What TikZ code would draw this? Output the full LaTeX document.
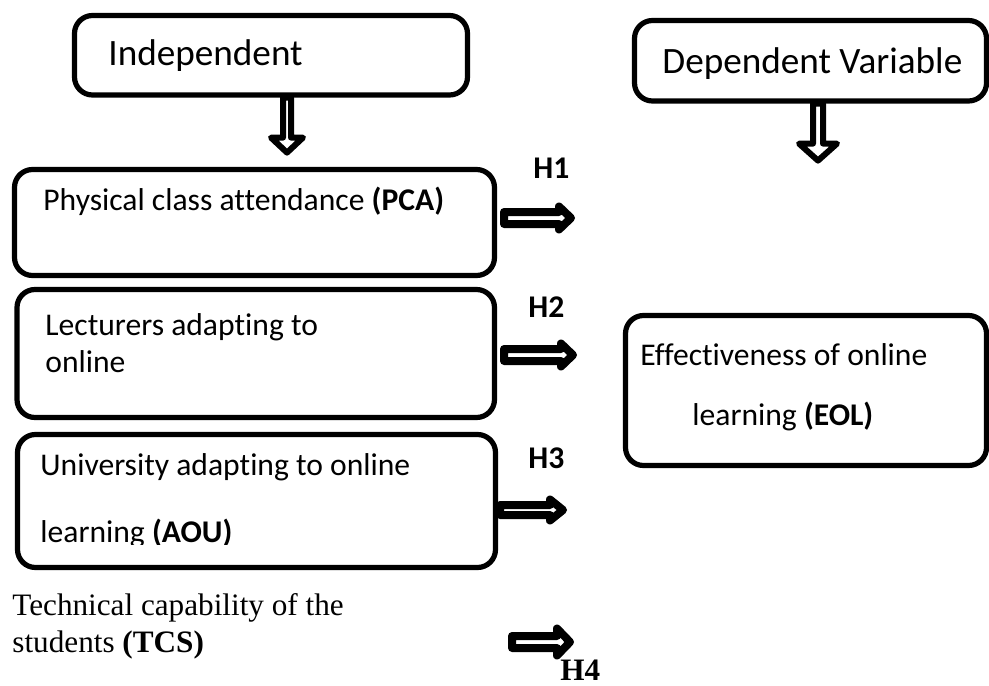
\documentclass[tikz,border=0pt]{standalone}
\usepackage{fontspec}
\setmainfont{Carlito}[Ligatures=CommonOff]
\newfontfamily\timesf{Liberation Serif}
\usetikzlibrary{fit}
\begin{document}
\begin{tikzpicture}[x=0.5pt,y=-0.5pt,
  box/.style={draw, line width=2.6pt, rounded corners=9pt, inner sep=0pt},
  txt/.style={anchor=base west, inner sep=0pt, font=\fontsize{15.8}{19}\selectfont},
  big/.style={anchor=base west, inner sep=0pt, font=\fontsize{18.6}{22}\selectfont},
  serif/.style={anchor=base west, inner sep=0pt, font=\timesf\fontsize{15.6}{19}\selectfont},
  hollow/.style={draw, fill=white, line join=round},
  pics/hollowarrow/.style n args={5}{code={
    \draw[hollow, line width=#5] (0,-#2) -- (#1-#4,-#2) -- (#1-#4,-#3) -- (#1,0)
      -- (#1-#4,#3) -- (#1-#4,#2) -- (0,#2) -- cycle;
  }}
]
\useasboundingbox (0,0) rectangle (989,685);

% boxes
\node[box, fit={(74.5,15.5) (467.5,95)}] (ind) {};
\node[box, fit={(634.5,20.5) (986.5,101)}] (dep) {};
\node[box, fit={(14.5,169.5) (494.5,275.5)}] (pca) {};
\node[box, fit={(17,289.5) (494.5,417.5)}] (lec) {};
\node[box, fit={(17.5,434.5) (495.5,567.5)}] (uni) {};
\node[box, fit={(625.5,315.5) (986.5,465.5)}] (eol) {};

% texts
\node[big] (tind) at (108,65) {Independent};
\node[big] (tdep) at (662,73) {Dependent Variable};
\node[txt] (tpca) at (43,210) {Physical class attendance \textbf{(PCA)}};
\node[txt] (tlec1) at (45,335) {Lecturers adapting to};
\node[txt] (tlec2) at (45,372) {online};
\node[txt] (tuni1) at (40,475) {University adapting to online};
\begin{scope}
  \clip (0,0) rectangle (989,544);
  \node[txt] (tuni2) at (40,542) {learning \textbf{(AOU)}};
\end{scope}
\node[txt] (teol1) at (640,365) {Effectiveness of online};
\node[txt] (teol2) at (692,425) {learning \textbf{(EOL)}};
\node[serif] (ttcs1) at (12,615) {Technical capability of the};
\node[serif] (ttcs2) at (12,652) {students \textbf{(TCS)}};

% hypothesis labels
\node[txt] (h1) at (533,178) {\textbf{H1}};
\node[txt] (h2) at (528,317) {\textbf{H2}};
\node[txt] (h3) at (528,468) {\textbf{H3}};
\node[serif] (h4) at (560,680) {\textbf{H4}};

% arrow anchors
\coordinate (v1) at (ind.south -| 287,0);
\coordinate (v2) at (dep.south -| 818,0);
\coordinate (a1) at (504,218);
\coordinate (a2) at (504,355);
\coordinate (a3) at (500,510);
\coordinate (a4) at (512,642);

% arrows
\pic[rotate=-90] at (v1) {hollowarrow={55}{4}{16}{15}{3pt}};
\pic[rotate=-90] at (v2) {hollowarrow={57}{5}{19}{17}{3pt}};
\pic at (a1) {hollowarrow={67}{6}{11.5}{12}{4pt}};
\pic at (a2) {hollowarrow={69}{6}{11.5}{12}{4pt}};
\pic at (a3) {hollowarrow={63}{5}{10.5}{13}{4pt}};
\pic at (a4) {hollowarrow={58}{6}{13.5}{13}{4pt}};
\end{tikzpicture}
\end{document}
